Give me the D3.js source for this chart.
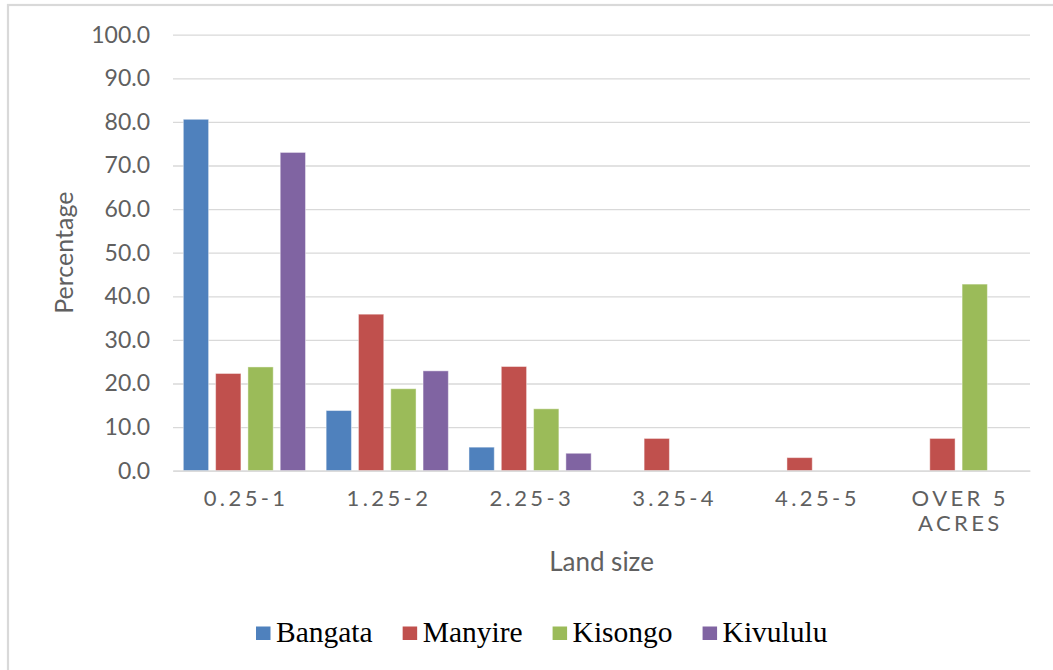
<!DOCTYPE html>
<html>
<head>
<meta charset="utf-8">
<script src="https://cdn.jsdelivr.net/npm/d3@7"></script>
<style>
  html, body { margin: 0; padding: 0; background: #fff; }
  svg { display: block; }
</style>
</head>
<body>
<svg id="chart" width="1053" height="670"></svg>
<script>
// ---- data ----
const categories = ["0.25-1", "1.25-2", "2.25-3", "3.25-4", "4.25-5", "OVER 5 ACRES"];
const seriesNames = ["Bangata", "Manyire", "Kisongo", "Kivululu"];
const bangata  = [80.6, 13.8, 5.4, 0, 0, 0];
const manyire  = [22.3, 35.9, 23.9, 7.4, 3.0, 7.4];
const kisongo  = [23.8, 18.8, 14.2, 0, 0, 42.8];
const kivululu = [73.0, 22.9, 4.0, 0, 0, 0];
const yTicks = [0, 10, 20, 30, 40, 50, 60, 70, 80, 90, 100];
const colors = ["#4F81BD", "#C0504D", "#9BBB59", "#8064A2"];
const seriesValues = [bangata, manyire, kisongo, kivululu];

// ---- layout ----
const svg = d3.select("#chart");
const plot = { left: 173, right: 1030, top: 34.7, bottom: 470.7 };

// chart frame
svg.append("rect")
  .attr("x", 8).attr("y", 5)
  .attr("width", 1100).attr("height", 700)
  .attr("fill", "none").attr("stroke", "#D9D9D9").attr("stroke-width", 2.2);

const x = d3.scaleBand().domain(categories).range([plot.left, plot.right]).padding(0);
const y = d3.scaleLinear().domain([0, 100]).range([plot.bottom, plot.top]);

const barW = 25.3, barGap = 7;
const groupW = seriesNames.length * barW + (seriesNames.length - 1) * barGap;
const xs = d3.scaleBand().domain(seriesNames)
  .range([(x.bandwidth() - groupW) / 2, (x.bandwidth() + groupW) / 2])
  .paddingInner(barGap / (barW + barGap)).paddingOuter(0);

const sans = "Lato, 'Open Sans', sans-serif";

// gridlines
const yAxis = d3.axisLeft(y).tickValues(yTicks)
  .tickSize(-(plot.right - plot.left)).tickPadding(23)
  .tickFormat(d3.format(".1f"));
const gy = svg.append("g").attr("transform", `translate(${plot.left},0)`).call(yAxis);
gy.select(".domain").remove();
gy.selectAll(".tick line").attr("stroke", "#D9D9D9").attr("stroke-width", 1.3);
gy.selectAll(".tick text")
  .attr("fill", "#606060")
  .style("font-family", sans)
  .style("font-size", "23px");

// bars
const data = [];
categories.forEach((c, i) => {
  seriesNames.forEach((s, j) => {
    data.push({ cat: c, series: s, value: seriesValues[j][i], color: colors[j] });
  });
});
svg.append("g").selectAll("rect").data(data.filter(d => d.value > 0)).join("rect")
  .attr("x", d => x(d.cat) + xs(d.series))
  .attr("width", xs.bandwidth())
  .attr("y", d => y(d.value))
  .attr("height", d => y(0) - y(d.value))
  .attr("fill", d => d.color)
  .attr("stroke", "#ffffff").attr("stroke-opacity", 0.45).attr("stroke-width", 1);

// x axis
const xAxis = d3.axisBottom(x).tickSize(0).tickFormat("");
const gx = svg.append("g").attr("transform", `translate(0,${plot.bottom})`).call(xAxis);
gx.select(".domain").attr("stroke", "#D9D9D9").attr("stroke-width", 1.3);
const ls = 3.4;
gx.selectAll(".tick").each(function(d) {
  const t = d3.select(this).append("text")
    .attr("fill", "#606060")
    .attr("text-anchor", "middle")
    .style("font-family", sans)
    .style("font-size", "22px")
    .style("letter-spacing", ls + "px");
  const lines = d === "OVER 5 ACRES" ? ["OVER 5", "ACRES"] : [d];
  lines.forEach((ln, k) => {
    t.append("tspan").attr("x", ls / 2).attr("y", 35 + k * 25.5).text(ln);
  });
});

// axis titles
svg.append("text")
  .attr("transform", `translate(73,${(plot.top + plot.bottom) / 2}) rotate(-90)`)
  .attr("text-anchor", "middle")
  .attr("fill", "#606060")
  .style("font-family", sans)
  .style("font-size", "25px")
  .text("Percentage");
svg.append("text")
  .attr("x", (plot.left + plot.right) / 2).attr("y", 571)
  .attr("text-anchor", "middle")
  .attr("fill", "#606060")
  .style("font-family", sans)
  .style("font-size", "26px")
  .text("Land size");

// legend
const legend = svg.append("g");
let lx = 256;
seriesNames.forEach((s, j) => {
  legend.append("rect").attr("x", lx).attr("y", 626.5).attr("width", 14.5).attr("height", 13.5).attr("fill", colors[j]);
  const t = legend.append("text")
    .attr("x", lx + 20).attr("y", 642)
    .attr("fill", "#000")
    .style("font-family", "'Liberation Serif', 'Times New Roman', serif")
    .style("font-size", "29.5px")
    .text(s);
  lx += 20 + t.node().getComputedTextLength() + 30;
});
</script>
</body>
</html>
